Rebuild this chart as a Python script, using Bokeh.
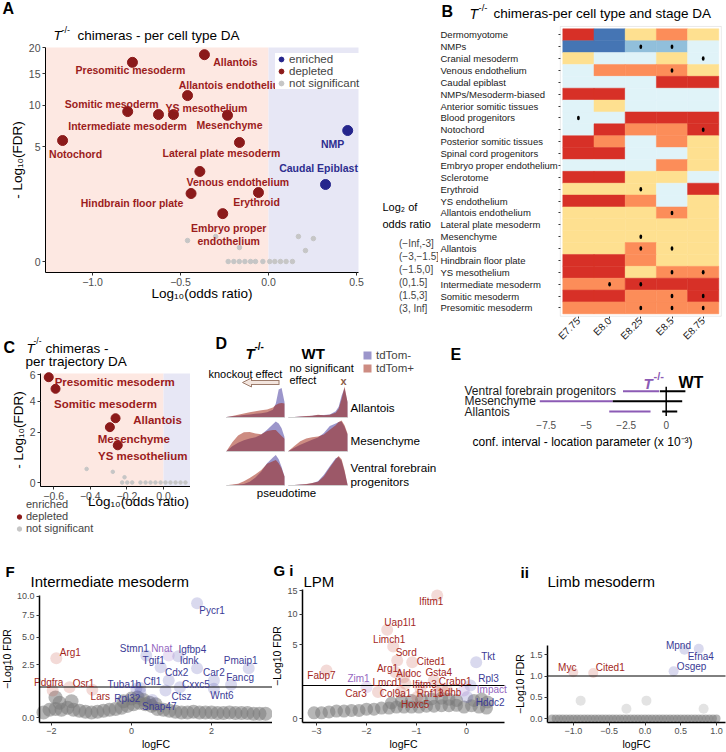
import math
from bokeh.plotting import figure
from bokeh.layouts import row, column
from bokeh.models import (ColumnDataSource, Range1d, FixedTicker, Label, LabelSet, LinearAxis,
                          Legend, LegendItem, BoxAnnotation, Arrow, NormalHead)
from bokeh.core.properties import value
from bokeh.embed import file_html
from bokeh.resources import INLINE

FONT = "Liberation Sans"

# ======================= DATA =======================
# ---- Panel A: per cell type DA ----
A_types = ["Allantois", "Presomitic mesoderm", "Allantois endothelium", "Somitic mesoderm",
           "Intermediate mesoderm", "YS mesothelium", "Mesenchyme", "Notochord",
           "Lateral plate mesoderm", "Venous endothelium", "Hindbrain floor plate", "Erythroid",
           "Embryo proper\nendothelium", "NMP", "Caudal Epiblast"]
A_log_odds = [-0.364, -0.773, -0.46, -0.80, -0.625, -0.54, -0.233, -1.17, -0.165, -0.39,
              -0.44, -0.057, -0.26, 0.45, 0.324]
A_mlog_fdr = [18.6, 17.1, 11.4, 9.1, 8.7, 8.7, 8.6, 5.65, 5.45, 2.93, 1.57, 1.62, 0.72, 6.74, 2.07]
A_status = ["depleted"] * 13 + ["enriched"] * 2
A_ns_log_odds = [-0.46, -0.30, -0.165, 0.17, 0.255, 0.21, -0.229, -0.197, -0.166, -0.134,
                 -0.102, -0.074, -0.032, 0.007, 0.036, 0.068, 0.10, 0.136]
A_ns_mlog_fdr = [0.115, 0.17, 0.047, 0.17, 0.14, 0.027, 0, 0, 0, 0, 0, 0, 0, 0, 0, 0, 0, 0]
A_lab_dx = [31, -2, 46, -16, -31, 33, 2, 13, -18, 38, -59, -2, 6, -15, -7]
A_lab_dy = [7, 8, -11, -8, 11, -7, 10, 13, 11, 11, 9, 9, 21, 13, -17]

# ---- Panel B: per cell type and stage DA ----
B_stages = ["E7.75", "E8.0", "E8.25", "E8.5", "E8.75"]
B_rows = ["Dermomyotome", "NMPs", "Cranial mesoderm", "Venous endothelium", "Caudal epiblast",
          "NMPs/Mesoderm-biased", "Anterior somitic tissues", "Blood progenitors", "Notochord",
          "Posterior somitic tissues", "Spinal cord progenitors", "Embryo proper endothelium",
          "Sclerotome", "Erythroid", "YS endothelium", "Allantois endothelium",
          "Lateral plate mesoderm", "Mesenchyme", "Allantois", "Hindbrain floor plate",
          "YS mesothelium", "Intermediate mesoderm", "Somitic mesoderm", "Presomitic mesoderm"]
B_bins = ["(\u2212Inf,-3]", "(\u22123,\u22121.5]", "(\u22121.5,0]", "(0,1.5]", "(1.5,3]", "(3, Inf]"]
B_bin = [[0, 5, 2, 1, 2], [5, 5, 4, 4, 3], [2, 3, 3, 2, 3], [3, 1, 1, 1, 2], [3, 3, 3, 0, 0],
         [0, 0, 3, 3, 3], [3, 2, 3, 3, 3], [3, 3, 0, 0, 0], [3, 0, 1, 1, 0], [0, 1, 3, 1, 2],
         [0, 0, 3, 3, 2], [3, 3, 3, 1, 2], [0, 0, 2, 2, 3], [2, 2, 2, 3, 0], [0, 0, 1, 3, 2],
         [2, 2, 2, 1, 2], [2, 2, 2, 2, 2], [2, 2, 2, 2, 2], [2, 2, 1, 2, 2], [0, 0, 1, 2, 2],
         [0, 0, 2, 1, 1], [1, 1, 0, 0, 0], [0, 0, 1, 1, 0], [1, 1, 1, 1, 1]]
B_sig = [[0, 0, 0, 0, 0], [0, 0, 1, 1, 0], [0, 0, 0, 0, 1], [0, 0, 0, 1, 0], [0, 0, 0, 0, 0],
         [0, 0, 0, 0, 0], [0, 0, 0, 0, 0], [1, 0, 0, 0, 0], [0, 0, 0, 0, 1], [0, 0, 0, 0, 0],
         [0, 0, 0, 0, 0], [0, 0, 0, 0, 0], [0, 0, 0, 0, 0], [0, 0, 1, 0, 0], [0, 0, 0, 0, 0],
         [0, 0, 0, 1, 0], [0, 0, 0, 0, 0], [0, 0, 1, 0, 0], [0, 0, 1, 1, 0], [0, 0, 0, 0, 0],
         [0, 0, 0, 1, 1], [0, 1, 1, 0, 0], [0, 0, 0, 1, 1], [0, 0, 1, 1, 1]]
HEAT = ["#d73027", "#fc8d59", "#fee090", "#e0f3f8", "#91bfdb", "#4575b4"]

# ---- Panel C: per trajectory DA ----
C_types = ["Presomitic mesoderm", "Somitic mesoderm", "Allantois", "Mesenchyme", "YS mesothelium"]
C_log_odds = [-0.627, -0.59, -0.262, -0.293, -0.25]
C_mlog_fdr = [5.79, 4.9, 2.86, 2.31, 1.31]
C_ns_log_odds = [-0.42, -0.277, -0.213, -0.226, -0.198, -0.171, -0.126, -0.098, -0.071,
                 -0.044, -0.016, 0.011, 0.038, 0.066, 0.093, 0.12]
C_ns_mlog_fdr = [0.31, 0.22, 0.08, 0, 0, 0, 0, 0, 0, 0, 0, 0, 0, 0, 0, 0]
C_lab_dx = [66, 50, 42, 24, 25]
C_lab_dy = [5, 15, 2, 12, 11]

# ---- Panel D: pseudotime densities (scaled) ----
D_pseudotime = [0, 0.1, 0.2, 0.3, 0.4, 0.5, 0.6, 0.7, 0.8, 0.85, 0.9, 0.95, 1.0]
D_rows = ["Allantois", "Mesenchyme", "Ventral forebrain\nprogenitors"]
D_ko_neg = [[0.02, 0.04, 0.06, 0.08, 0.10, 0.12, 0.14, 0.17, 0.25, 0.45, 0.90, 0.95, 0.50],
            [0.02, 0.17, 0.28, 0.36, 0.42, 0.46, 0.55, 0.70, 0.88, 0.97, 0.90, 0.75, 0.47],
            [0.01, 0.02, 0.03, 0.05, 0.12, 0.26, 0.45, 0.72, 0.90, 0.98, 0.85, 0.60, 0.29]]
D_ko_pos = [[0.02, 0.05, 0.09, 0.13, 0.17, 0.20, 0.23, 0.26, 0.32, 0.40, 0.45, 0.47, 0.45],
            [0.02, 0.30, 0.52, 0.62, 0.63, 0.58, 0.56, 0.66, 0.69, 0.69, 0.60, 0.50, 0.41],
            [0.01, 0.03, 0.06, 0.14, 0.24, 0.36, 0.50, 0.70, 0.78, 0.82, 0.72, 0.55, 0.29]]
D_wt_neg = [[0.01, 0.02, 0.03, 0.04, 0.06, 0.08, 0.08, 0.10, 0.20, 0.35, 0.70, 0.95, 0.50],
            [0.02, 0.12, 0.22, 0.30, 0.38, 0.45, 0.60, 0.82, 0.90, 0.95, 0.97, 0.80, 0.55],
            [0.01, 0.02, 0.03, 0.04, 0.07, 0.14, 0.35, 0.62, 0.88, 0.92, 0.80, 0.45, 0.03]]
D_wt_pos = [[0.01, 0.02, 0.03, 0.05, 0.06, 0.09, 0.07, 0.09, 0.15, 0.28, 0.60, 1.00, 0.50],
            [0.02, 0.18, 0.33, 0.42, 0.46, 0.48, 0.55, 0.70, 0.85, 0.95, 1.00, 0.85, 0.58],
            [0.01, 0.02, 0.03, 0.05, 0.08, 0.12, 0.30, 0.58, 0.85, 0.95, 0.85, 0.50, 0.03]]

# ---- Panel E: confidence intervals (x 1e-3) ----
E_types = ["Ventral forebrain progenitors", "Mesenchyme", "Allantois"]
E_ko_lo = [-2.70, -7.90, -3.56]
E_ko_hi = [-0.45, -3.34, -0.98]
E_wt_lo = [-0.40, -3.34, -0.25]
E_wt_hi = [1.20, 1.00, 0.69]
E_ticks = [-7.5, -5.0, -2.5, 0.0]

# ---- Panel F: Intermediate mesoderm volcano ----
F_genes = ["Pycr1", "Stmn1", "Nnat", "Igfbp4", "Tgif1", "Idnk", "Cdx2", "Car2", "Cxxc5", "Pmaip1",
           "Fancg", "Cfl1", "Tuba1b", "Ctsz", "Wnt6", "Rpl32", "Snap47", "Arg1", "Pdgfra", "Osr1", "Lars"]
F_logfc = [1.64, 0.37, 0.93, 1.17, 0.73, 1.64, 0.93, 2.06, 1.21, 2.93, 2.49, 0.22, 0.12, 0.85, 2.06,
           0.22, 0.52, -1.88, -1.97, -1.55, -0.98]
F_mlog_fdr = [9.04, 3.26, 3.26, 3.2, 2.30, 2.23, 1.38, 1.38, 0.99, 2.23, 1.12, 0.94, 0.90, 0.82, 0.90,
              0.73, 0.40, 3.03, 0.82, 0.99, 0.85]
F_group = ["up", "up", "mixed", "up", "up", "up", "up", "up", "up", "up", "up", "up", "up", "up",
           "up", "up", "up", "down", "down", "down", "down"]
F_lab_dx = [15, -12, -7, 14, -7, -8, 8, 0, 16, -8, 9, 12, -12, 16, 8, -13, 7, 14, -4, 14, 8]
F_lab_dy = [7, -7, -7, -7, -7, -8, -8, -8, -3, -8, -7, -7, -4, 6, 7, 6, 7, -6, -8, -4, 7]
F_bg_logfc = [-2.2, -2.05, -1.9, -1.75, -1.6, -1.45, -1.3, -1.15, -1.0, -0.85, -0.7, -0.55, -0.4,
              -0.25, -0.1, 0.05, 0.2, 0.35, 0.5, 0.65, 0.8, 0.95, 1.1, 1.25, 1.4, 1.55, 1.7, 1.85,
              2.0, 2.15, 2.3, 2.45, 2.6, 2.75, 2.9, 3.05, 3.2, 3.35, -0.2, 0.0, 0.15, 0.3, 0.45,
              0.6, -1.8, -1.5, -1.9]
F_bg_mlog_fdr = [0.05, 0.1, 0.12, 0.1, 0.15, 0.1, 0.08, 0.06, 0.05, 0.06, 0.08, 0.1, 0.12, 0.15,
                 0.2, 0.25, 0.3, 0.25, 0.2, 0.12, 0.1, 0.08, 0.06, 0.05, 0.05, 0.06, 0.05, 0.05,
                 0.05, 0.04, 0.04, 0.05, 0.04, 0.04, 0.04, 0.03, 0.03, 0.03, 0.35, 0.45, 0.5, 0.4,
                 0.3, 0.25, 0.3, 0.35, 0.5]

# ---- Panel G i: LPM volcano ----
Gi_genes = ["Ifitm1", "Uap1l1", "Limch1", "Sord", "Cited1", "Arg1", "Aldoc", "Gsta4", "Lmcd1",
            "Ifitm3", "Crabp1", "Fabp7", "Zim1", "Car3", "Col9a1", "Rnf13", "Ldhb", "Hoxc5",
            "Tkt", "Rpl3", "Impact", "Hddc2"]
Gi_logfc = [-0.586, -1.586, -1.466, -1.386, -1.086, -1.42, -1.254, -0.654, -1.22, -0.92, -0.486,
            -2.8, -2.0, -1.77, -1.32, -0.586, -0.386, -0.986, 0.194, 0.08, -0.054, 0.014]
Gi_mlog_fdr = [13.9, 7.22, 4.76, 3.09, 2.91, 1.97, 1.57, 1.33, 1.11, 0.81, 0.81, 2.12, 0.9, 0.64,
               0.64, 0.64, 0.72, 0.42, 2.91, 1.0, 0.72, 0.42]
Gi_group = ["down"] * 12 + ["mixed"] + ["down"] * 5 + ["up", "up", "mixed", "up"]
Gi_lab_dx = [-6, 13, -4, 9, 19, -8, 5, 5, -18, 4, 13, -5, -8, -22, -5, -7, 3, -2, 12, 18, 28, 23]
Gi_lab_dy = [6, -7, -7, -8, -1, -4, -4, -8, -1, -4, -7, 5, -9, 1, 1, 1, 2, 7, -6, -7, -1, 5]
Gi_bg_logfc = [-3.05, -2.9, -2.75, -2.6, -2.45, -2.3, -2.15, -2.0, -1.85, -1.7, -1.55, -1.4, -1.25,
               -1.1, -0.95, -0.8, -0.65, -0.5, -0.35, -0.2, -0.05, 0.1, 0.25, 0.4, -1.5, -1.3,
               -1.1, -0.9, -0.7, -0.5, -0.35, -0.2, 0.15, 0.3, 0.42]
Gi_bg_mlog_fdr = [0.03, 0.03, 0.04, 0.05, 0.05, 0.06, 0.06, 0.08, 0.08, 0.1, 0.1, 0.12, 0.12,
                  0.12, 0.12, 0.14, 0.14, 0.15, 0.15, 0.16, 0.12, 0.15, 0.12, 0.1, 0.22, 0.28,
                  0.3, 0.32, 0.35, 0.38, 0.34, 0.3, 0.3, 0.35, 0.25]

# ---- Panel G ii: Limb mesoderm volcano ----
Gii_genes = ["Mpnd", "Efna4", "Osgep", "Myc", "Cited1"]
Gii_logfc = [0.552, 0.752, 0.40, -1.004, -0.724]
Gii_mlog_fdr = [1.62, 1.64, 1.11, 1.09, 1.07]
Gii_group = ["up", "up", "up", "down", "down"]
Gii_lab_dx = [-6, 2, 18, -6, 17]
Gii_lab_dy = [-4, 8, -5, -5, -6]
Gii_ns_logfc = [-0.90, -0.26, 0.02, 0.82]
Gii_ns_mlog_fdr = [0.42, 0.23, 0.42, 0.23]
Gii_bg_logfc = [-1.30, -1.25, -1.20, -1.15, -1.10, -1.05, -1.00, -0.95, -0.90, -0.85, -0.80, -0.75,
                -0.70, -0.65, -0.60, -0.55, -0.50, -0.45, -0.40, -0.35, -0.30, -0.25, -0.20, -0.15,
                -0.10, -0.05, 0.00, 0.05, 0.10, 0.15, 0.20, 0.25, 0.30, 0.35, 0.40, 0.45, 0.50,
                0.55, 0.60, 0.65, 0.70, 0.75, 0.80, 0.85, 0.90, 0.95, 1.00]
Gii_bg_mlog_fdr = [0.0] * 47

# ======================= STYLE =======================
RED_PT, BLUE_PT, GREY_PT = "#8b1a1a", "#25258c", "#c6c6c6"
RED_TX, BLUE_TX = "#9b1c1c", "#2d2d8f"
GENE_COL = {"up": "#3b3b96", "down": "#a3271c", "mixed": "#9466bf"}
GENE_PT = {"up": "#5050b0", "down": "#c8584a", "mixed": "#a070c8"}
PINK_BG, BLUE_BG = "#fde8e2", "#e7e7f5"
D_NEG, D_POS = "#392d97", "#9b1a05"
E_PURPLE = "#8c5bb5"

GEOM = {}


def xr_from(a, b, w):
    return Range1d(-a / b, (w - a) / b)


def yr_from(a, b, h):
    return Range1d((a - h) / b, a / b)


def xv(a, b, px):
    return (px - a) / b


def yv(a, b, py):
    return (a - py) / b


def make_fig(name, ox, oy, w, h, xr, yr):
    p = figure(width=w, height=h, x_range=xr, y_range=yr, output_backend="svg",
               toolbar_location=None, title=None, x_axis_location=None, y_axis_location=None,
               min_border=0)
    p.grid.visible = False
    p.outline_line_color = None
    p.background_fill_color = "white"
    p.border_fill_color = "white"
    GEOM[name] = (ox, oy, h)
    return p


def put(p, name, X, Y, text, size, color="black", style="normal", align="left", baseline="middle"):
    ox, oy, h = GEOM[name]
    p.add_layout(Label(x=X - ox, y=h - (Y - oy), x_units="screen", y_units="screen",
                       text=text, text_font=FONT, text_font_size=f"{size}px", text_color=color,
                       text_font_style=style, text_align=align, text_baseline=baseline))


def style_axis(ax, tick_size, label_size, line_width=1.0):
    ax.axis_line_color = "black"
    ax.axis_line_width = line_width
    ax.major_tick_line_color = "#333333"
    ax.major_tick_out = 3
    ax.major_tick_in = 0
    ax.minor_tick_line_color = None
    ax.major_label_text_font = FONT
    ax.major_label_text_font_size = f"{tick_size}px"
    ax.major_label_text_color = "#4d4d4d"
    ax.axis_label_text_font = FONT
    ax.axis_label_text_font_size = f"{label_size}px"
    ax.axis_label_text_font_style = "normal"
    ax.axis_label_text_color = "black"
    ax.major_label_standoff = 2
    ax.axis_label_standoff = 1


def add_axes(p, x_at, x_bounds, y_at, y_bounds, tick_size, label_size, lw=1.0):
    xa = LinearAxis(fixed_location=x_at, bounds=x_bounds)
    ya = LinearAxis(fixed_location=y_at, bounds=y_bounds)
    p.add_layout(xa, "below")
    p.add_layout(ya, "left")
    style_axis(xa, tick_size, label_size, lw)
    style_axis(ya, tick_size, label_size, lw)
    return xa, ya


def tr(vals, pw):
    return [float(v) ** pw for v in vals]


def set_ticks(axis, vals, labels, pw=1.0):
    pos = [float(v) ** pw if v >= 0 else float(v) for v in vals]
    axis.ticker = FixedTicker(ticks=pos)
    axis.major_label_overrides = {q: l for q, l in zip(pos, labels)}


# ======================= PANEL A =======================
PA = 0.45
AX, AY = (268, 176), (261, 55.5)
A = make_fig("A", 0, 0, 438, 330, xr_from(*AX, 438), yr_from(*AY, 330))
aL, aR = xv(*AX, 45), xv(*AX, 358)
aT, aB = yv(*AY, 47), yv(*AY, 272)
A.add_layout(BoxAnnotation(left=aL, right=0, top=aT, bottom=aB, fill_color=PINK_BG, fill_alpha=1,
                           line_color=None, level="underlay"))
A.add_layout(BoxAnnotation(left=0, right=aR, top=aT, bottom=aB, fill_color=BLUE_BG, fill_alpha=1,
                           line_color=None, level="underlay"))
xa, ya = add_axes(A, aB, (aL, aR), aL, (aB, aT), 10.5, 13.5)
xa.axis_label = "Log\u2081\u2080(odds ratio)"
xa.axis_label_standoff = -3
ya.axis_label = "- Log\u2081\u2080(FDR)"
set_ticks(xa, [-1.0, -0.5, 0.0, 0.5], ["\u22121.0", "\u22120.5", "0.0", "0.5"])
set_ticks(ya, [0, 5, 10, 15, 20], ["0", "5", "10", "15", "20"], PA)

rA_ns = A.scatter(A_ns_log_odds, tr(A_ns_mlog_fdr, PA), size=4.5, color=GREY_PT)
dep = [i for i, s in enumerate(A_status) if s == "depleted"]
enr = [i for i, s in enumerate(A_status) if s == "enriched"]
rA_dep = A.scatter([A_log_odds[i] for i in dep], tr([A_mlog_fdr[i] for i in dep], PA), size=10, color=RED_PT)
rA_enr = A.scatter([A_log_odds[i] for i in enr], tr([A_mlog_fdr[i] for i in enr], PA), size=10, color=BLUE_PT)
srcA = ColumnDataSource(dict(x=A_log_odds, y=tr(A_mlog_fdr, PA), t=A_types, dx=A_lab_dx, dy=A_lab_dy,
                             c=[RED_TX if s == "depleted" else BLUE_TX for s in A_status]))
A.text("x", "y", text="t", x_offset="dx", y_offset="dy", source=srcA, text_align="center",
       text_baseline="middle", text_font=value(FONT), text_font_style="bold",
       text_font_size="10.5px", text_color="c", text_line_height=1.1)
legA = Legend(items=[LegendItem(label="enriched", renderers=[rA_enr]),
                     LegendItem(label="depleted", renderers=[rA_dep]),
                     LegendItem(label="not significant", renderers=[rA_ns])],
              location=(275, 241), glyph_width=12, glyph_height=12, label_height=10, spacing=0,
              padding=2, margin=0, label_standoff=2, label_text_font=FONT,
              label_text_font_size="11.5px", background_fill_color="white",
              background_fill_alpha=1, border_line_color=None)
A.add_layout(legA)
put(A, "A", 2, 8, "A", 16, style="bold")
put(A, "A", 53, 35, "T", 13.5, style="italic")
put(A, "A", 61, 29, "-/-", 9)
put(A, "A", 77, 35, "chimeras - per cell type DA", 13.5)

# legend of panel B, drawn in the free space of this canvas
B_leg_r = [A.rect(x=[], y=[], width=1, height=1, fill_color=c, line_color=None) for c in HEAT]
legB = Legend(items=[LegendItem(label=l, renderers=[r]) for l, r in zip(B_bins, B_leg_r)],
              location=(382, 15), glyph_width=15, glyph_height=13, label_height=13, spacing=0,
              padding=0, margin=0, label_standoff=2, label_text_font=FONT,
              label_text_font_size="10px", background_fill_alpha=0, border_line_color=None)
A.add_layout(legB)
put(A, "A", 382, 206, "Log\u2082 of", 11)
put(A, "A", 382, 223, "odds ratio", 11)

# ======================= PANEL B =======================
nR, nS = len(B_rows), len(B_stages)
BH = 345
BX, BY = (139.9, 31.2), (307.4, 11.875)
B = make_fig("B", 438, 0, 288, BH, xr_from(*BX, 288), yr_from(*BY, BH))
hx, hy, hc, sx, sy = [], [], [], [], []
for i in range(nR):
    for j in range(nS):
        hx.append(j)
        hy.append(nR - 1 - i)
        hc.append(HEAT[B_bin[i][j]])
        if B_sig[i][j]:
            sx.append(j)
            sy.append(nR - 1 - i)
B.rect(hx, hy, width=1, height=1, fill_color=hc, line_color=hc, line_width=0.5)
B.ellipse(sx, sy, width=0.09, height=0.38, fill_color="black", line_color=None)
bL, bR, bB, bT = -0.58, nS - 0.42, -0.7, nR - 0.3
B.add_layout(BoxAnnotation(left=bL, right=bR, bottom=bB, top=bT, fill_alpha=0,
                           line_color="#b5b5b5", line_width=1))
xb, yb = add_axes(B, bB, (bL, bR), bL, (bB, bT), 10, 11)
for ax in (xb, yb):
    ax.axis_line_color = None
    ax.major_tick_out = 2
    ax.major_label_standoff = 1
    ax.major_label_text_color = "#222222"
set_ticks(xb, list(range(nS)), B_stages)
xb.major_label_orientation = math.pi / 4
set_ticks(yb, list(range(nR)), [""] * nR)
srcB = ColumnDataSource(dict(y=[nR - 1 - i for i in range(nR)], t=B_rows))
B.add_layout(LabelSet(x=2, y="y", text="t", x_units="screen", source=srcB,
                      text_font=value(FONT), text_font_size="9.5px", text_color="#1a1a1a",
                      text_baseline="middle"))
put(B, "B", 441, 11, "B", 16, style="bold")
put(B, "B", 469, 13, "T", 14, style="italic")
put(B, "B", 478, 7, "-/-", 9.5)
put(B, "B", 493, 13, "chimeras-per cell type and stage DA", 13.5)

# ======================= PANEL C =======================
PC = 0.7
CX, CY = (163, 183), (152, 30.8)
C = make_fig("C", 0, 330, 190, 210, xr_from(*CX, 190), yr_from(*CY, 210))
cL, cR = xv(*CX, 40), xv(*CX, 190)
cT, cB = yv(*CY, 43), yv(*CY, 156)
C.add_layout(BoxAnnotation(left=cL, right=0, top=cT, bottom=cB, fill_color=PINK_BG, fill_alpha=1,
                           line_color=None, level="underlay"))
C.add_layout(BoxAnnotation(left=0, right=cR, top=cT, bottom=cB, fill_color=BLUE_BG, fill_alpha=1,
                           line_color=None, level="underlay"))
xc, yc = add_axes(C, cB, (cL, cR), cL, (cB, cT), 10.5, 13.5)
yc.axis_label = "- Log\u2081\u2080(FDR)"
set_ticks(xc, [-0.6, -0.4, -0.2, 0.0], ["\u22120.6", "\u22120.4", "\u22120.2", "0.0"])
set_ticks(yc, [0, 2, 4, 6], ["0", "2", "4", "6"], PC)
rC_ns = C.scatter(C_ns_log_odds, tr(C_ns_mlog_fdr, PC), size=3.5, color=GREY_PT)
rC_dep = C.scatter(C_log_odds, tr(C_mlog_fdr, PC), size=9, color=RED_PT)
rC_enr = C.scatter([], [], size=9, color=BLUE_PT)
srcC = ColumnDataSource(dict(x=C_log_odds, y=tr(C_mlog_fdr, PC), t=C_types, dx=C_lab_dx, dy=C_lab_dy))
C.text("x", "y", text="t", x_offset="dx", y_offset="dy", source=srcC, text_align="center",
       text_baseline="middle", text_font=value(FONT), text_font_style="bold",
       text_font_size="11.5px", text_color=RED_TX)
legC = Legend(items=[LegendItem(label="enriched", renderers=[rC_enr]),
                     LegendItem(label="depleted", renderers=[rC_dep]),
                     LegendItem(label="not significant", renderers=[rC_ns])],
              location=(13, 6), glyph_width=12, glyph_height=11, label_height=9, spacing=0,
              padding=1, margin=0, label_standoff=1, label_text_font=FONT,
              label_text_font_size="11px", background_fill_alpha=0, border_line_color=None)
C.add_layout(legC)
put(C, "C", 138, 501, "Log\u2081\u2080(odds ratio)", 13.5, align="center")
put(C, "C", 3, 347, "C", 16, style="bold")
put(C, "C", 26, 348, "T", 13.5, style="italic")
put(C, "C", 33, 340, "-/-", 8.5)
put(C, "C", 45, 348, "chimeras -", 13.5)
put(C, "C", 25, 361, "per trajectory DA", 13.5)

# ======================= PANEL D =======================
D = make_fig("D", 190, 330, 248, 210, Range1d(0, 1), Range1d(0, 1))
D.extra_x_ranges = {"c0": xr_from(36, 58, 248), "c1": xr_from(98, 59, 248)}
D.extra_y_ranges = {"r0": yr_from(87, 31, 210), "r1": yr_from(121, 31, 210),
                    "r2": yr_from(155, 31, 210)}
leg_neg = leg_pos = None
for r in range(3):
    for c, (neg, pos) in enumerate([(D_ko_neg, D_ko_pos), (D_wt_neg, D_wt_pos)]):
        rn = D.varea(x=D_pseudotime, y1=0, y2=neg[r], fill_color=D_NEG, fill_alpha=0.5,
                     x_range_name=f"c{c}", y_range_name=f"r{r}")
        rp = D.varea(x=D_pseudotime, y1=0, y2=pos[r], fill_color=D_POS, fill_alpha=0.5,
                     x_range_name=f"c{c}", y_range_name=f"r{r}")
        D.segment(x0=D_pseudotime[0], x1=D_pseudotime[-1], y0=0, y1=0, line_color="#d0d0d0",
                  line_width=1, x_range_name=f"c{c}", y_range_name=f"r{r}")
        leg_neg, leg_pos = rn, rp
legD = Legend(items=[LegendItem(label="tdTom-", renderers=[leg_neg]),
                     LegendItem(label="tdTom+", renderers=[leg_pos])],
              location=(172, 166), glyph_width=10, glyph_height=10, label_height=10, spacing=1,
              padding=0, margin=0, label_standoff=4, label_text_font=FONT,
              label_text_font_size="11.5px", background_fill_alpha=0, border_line_color=None)
D.add_layout(legD)
put(D, "D", 215, 343, "D", 16, style="bold")
put(D, "D", 245, 353, "T", 15, style="bold italic")
put(D, "D", 254, 346, "-/-", 10, style="bold")
put(D, "D", 301, 353, "WT", 15, style="bold")
put(D, "D", 208, 373, "knockout effect", 11)
put(D, "D", 289, 367, "no significant", 11)
put(D, "D", 289, 379, "effect", 11)
put(D, "D", 343, 380, "x", 11, color="#8a5a44", style="bold", align="center")
dox, doy, dh = GEOM["D"]
D.add_layout(Arrow(end=NormalHead(size=9, fill_color="#f3e5de", line_color="#9c7b6b", line_width=1),
                   x_start=279 - dox, y_start=dh - (382 - doy), x_end=242 - dox,
                   y_end=dh - (382 - doy), start_units="screen", end_units="screen",
                   line_color="#9c7b6b", line_width=5))
D.add_layout(Arrow(end=None, x_start=278 - dox, y_start=dh - (382 - doy), x_end=247 - dox,
                   y_end=dh - (382 - doy), start_units="screen", end_units="screen",
                   line_color="#f3e5de", line_width=3))
put(D, "D", 350, 407, D_rows[0], 11.7)
put(D, "D", 350, 440, D_rows[1], 11.7)
put(D, "D", 350, 467, D_rows[2].split("\n")[0], 11.7)
put(D, "D", 350, 481, D_rows[2].split("\n")[1], 11.7)
put(D, "D", 286, 492, "pseudotime", 11.5, align="center")

# ======================= PANEL E =======================
EOY = BH
EH = 540 - EOY
EX, EY = (227.7, 16.0), (411 + 10.15 - EOY, 10.15)
E = make_fig("E", 438, EOY, 288, EH, xr_from(*EX, 288), yr_from(*EY, EH))
E_y = [len(E_types) - i for i in range(len(E_types))]
E.segment(x0=E_ko_lo, x1=E_ko_hi, y0=E_y, y1=E_y, line_color=E_PURPLE, line_width=2)
E.segment(x0=E_wt_lo, x1=E_wt_hi, y0=E_y, y1=E_y, line_color="black", line_width=2)
E.segment(x0=[0], x1=[0], y0=[min(E_y) - 0.45], y1=[max(E_y) + 0.45], line_color="black", line_width=1.5)
eB = yv(*EY, 416 - EOY)
xe = LinearAxis(fixed_location=eB)
E.add_layout(xe, "below")
style_axis(xe, 10, 12)
xe.axis_line_color = None
xe.major_tick_line_color = None
xe.major_label_standoff = 1
xe.axis_label_standoff = 3
xe.axis_label = "conf. interval - location parameter (x 10\u207b\u00b3)"
set_ticks(xe, E_ticks, ["\u22127.5", "\u22125", "\u22122.5", "0"])
srcE = ColumnDataSource(dict(y=E_y, t=E_types))
E.add_layout(LabelSet(x=26, y="y", text="t", x_units="screen", source=srcE, text_font=value(FONT),
                      text_font_size="12px", text_color="#1a1a1a", text_baseline="middle"))
put(E, "E", 450, 354, "E", 16, style="bold")
put(E, "E", 643, 383, "T", 15, color=E_PURPLE, style="bold italic")
put(E, "E", 653, 375, "-/-", 11, color=E_PURPLE, style="bold")
put(E, "E", 678, 382, "WT", 16, style="bold")


# ======================= VOLCANOS F / G =======================
def volcano(name, ox, w, XM, YM, frame_px, pw, genes, lfc, fdr, grp, dx, dy,
            bg_x, bg_y, bg_size, xt, xtl, yt, ytl, pt_size=12):
    p = make_fig(name, ox, 540, w, 212, xr_from(*XM, w), yr_from(*YM, 212))
    fl, fr, ft, fb = frame_px
    vL, vR, vT, vB = xv(*XM, fl), xv(*XM, fr), yv(*YM, ft), yv(*YM, fb)
    p.scatter(bg_x, tr(bg_y, pw), size=bg_size, color="#7a7a7a", alpha=0.55, line_color=None)
    for g in ["up", "down", "mixed"]:
        idx = [i for i, gg in enumerate(grp) if gg == g]
        if idx:
            p.scatter([lfc[i] for i in idx], tr([fdr[i] for i in idx], pw), size=pt_size,
                      fill_color=GENE_PT[g], fill_alpha=0.22, line_color=None)
    # significance threshold (FDR = 0.1)
    p.segment(x0=[vL], x1=[vR], y0=[1.0], y1=[1.0], line_color="black", line_width=1)
    src = ColumnDataSource(dict(x=lfc, y=tr(fdr, pw), t=genes, dx=dx, dy=dy,
                                c=[GENE_COL[g] for g in grp]))
    p.text("x", "y", text="t", x_offset="dx", y_offset="dy", source=src, text_align="center",
           text_baseline="middle", text_font=value(FONT), text_font_size="10px", text_color="c")
    xa_, ya_ = add_axes(p, vB, (vL, vR), vL, (vB, vT), 9, 10.5, lw=1.5)
    xa_.axis_label = "logFC"
    ya_.axis_label = "\u2212Log10 FDR"
    set_ticks(xa_, xt, xtl)
    set_ticks(ya_, yt, ytl, pw)
    return p


F = volcano("F", 0, 272, (131, 40), (177, 30.5), (39, 272, 55, 182), 0.6,
            F_genes, F_logfc, F_mlog_fdr, F_group, F_lab_dx, F_lab_dy, F_bg_logfc, F_bg_mlog_fdr, 14,
            [-2, 0, 2], ["\u22122", "0", "2"], [0, 2.5, 5, 7.5, 10], ["0.0", "2.5", "5.0", "7.5", "10.0"])
put(F, "F", 5, 571, "F", 15, style="bold")
put(F, "F", 30, 581, "Intermediate mesoderm", 15)

Gi = volcano("Gi", 272, 238, (194, 50), (178, 33), (30, 232, 49, 182), 0.5,
             Gi_genes, Gi_logfc, Gi_mlog_fdr, Gi_group, Gi_lab_dx, Gi_lab_dy, Gi_bg_logfc,
             Gi_bg_mlog_fdr, 13, [-3, -2, -1, 0], ["\u22123", "\u22122", "\u22121", "0"],
             [0, 5, 10, 15], ["0", "5", "10", "15"])
put(Gi, "Gi", 273, 570, "G i", 15, style="bold")
put(Gi, "Gi", 303, 581, "LPM", 15)

Gii = volcano("Gii", 510, 216, (134.5, 71.5), (178, 42.5), (37, 215, 105, 182), 1.0,
              Gii_genes, Gii_logfc, Gii_mlog_fdr, Gii_group, Gii_lab_dx, Gii_lab_dy, Gii_bg_logfc,
              Gii_bg_mlog_fdr, 8, [-1.0, -0.5, 0.0, 0.5, 1.0],
              ["\u22121.0", "\u22120.5", "0.0", "0.5", "1.0"], [0, 0.5, 1.0, 1.5],
              ["0.0", "0.5", "1.0", "1.5"], pt_size=10)
Gii.scatter(Gii_ns_logfc, Gii_ns_mlog_fdr, size=10, color="#d0d0d0", alpha=0.6, line_color=None)
put(Gii, "Gii", 520, 572, "ii", 15, style="bold")
put(Gii, "Gii", 547, 581, "Limb mesoderm", 15)

# ======================= LAYOUT =======================
left_col = column(A, row(C, D))
right_col = column(B, E)
layout = column(row(left_col, right_col), row(F, Gi, Gii))

open("out.html", "w").write(file_html(layout, INLINE, "T-/- chimeras"))
